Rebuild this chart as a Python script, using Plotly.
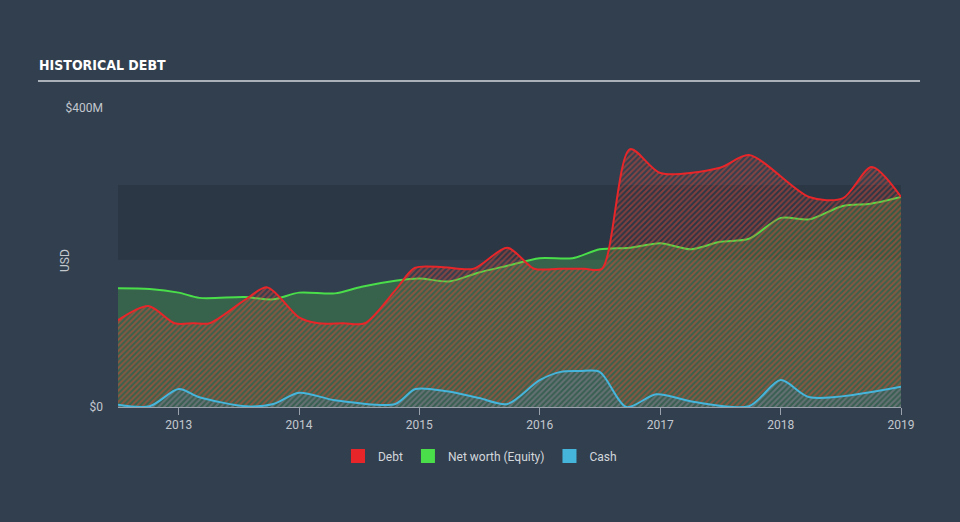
import plotly.graph_objects as go

debt_dates = ["2012-07-01", "2012-10-01", "2012-12-20", "2013-02-15", "2013-04-05", "2013-07-20",
              "2013-09-27", "2014-01-01", "2014-03-01", "2014-05-15", "2014-07-20", "2014-10-20",
              "2014-12-18", "2015-03-15", "2015-06-15", "2015-09-25", "2015-12-15", "2016-03-01",
              "2016-05-15", "2016-07-08", "2016-10-01", "2017-01-01", "2017-07-01", "2017-09-27",
              "2018-03-28", "2018-07-08", "2018-10-04", "2019-01-01"]
debt_values = [116, 135, 112, 112, 112, 143,
               160, 120, 112, 112, 112, 156,
               186, 187, 185, 213, 185, 185,
               185, 185, 345, 313, 320, 337,
               281, 279, 321, 281]

equity_dates = ["2012-07-01", "2012-10-05", "2013-01-01", "2013-03-05", "2013-07-20", "2013-10-15",
                "2014-01-01", "2014-04-20", "2014-07-10", "2014-10-20", "2015-01-01", "2015-04-01",
                "2015-07-01", "2015-09-25", "2016-01-01", "2016-04-10", "2016-07-01", "2016-10-01",
                "2017-01-01", "2017-04-05", "2017-07-01", "2017-09-27", "2018-01-01", "2018-03-28",
                "2018-07-08", "2018-10-01", "2019-01-01"]
equity_values = [159, 158, 153, 146, 147, 144, 153, 152, 161, 169, 172, 168,
                 180, 189, 199, 199, 211, 213, 219, 211, 221, 225, 253, 251,
                 269, 272, 281]

cash_dates = ["2012-07-01", "2012-10-05", "2013-01-01", "2013-03-05", "2013-07-25", "2013-10-15",
              "2014-01-01", "2014-04-20", "2014-10-20", "2014-12-20", "2015-03-25", "2015-07-01",
              "2015-09-25", "2016-01-01", "2016-03-05", "2016-05-01", "2016-07-01", "2016-09-20",
              "2016-12-20", "2017-04-10", "2017-09-27", "2018-01-01", "2018-03-30", "2019-01-01"]
cash_values = [3, 1, 24, 13, 1, 4, 19, 9, 4, 24, 21, 12,
               4, 36, 47, 48, 47, 0, 17, 7, 1, 36, 13, 27]

y_tickvals = [0, 400]
y_ticktext = ["$0", "$400M"]
legend_names = ["Debt", "Net worth (Equity)", "Cash"]

RED = "#e8262a"
GREEN = "#4ade4a"
BLUE = "#45b5dc"
BG = "#323f4e"
TXT = "#c3c8cf"

fig = go.Figure()

fig.add_trace(go.Scatter(
    x=equity_dates, y=equity_values, mode="lines", name=legend_names[1],
    line=dict(color=GREEN, width=2, shape="spline", smoothing=0.8),
    fill="tozeroy", fillcolor="rgba(73,222,73,0.22)", showlegend=False, hoverinfo="skip"))

fig.add_trace(go.Scatter(
    x=debt_dates, y=debt_values, mode="lines", name=legend_names[0],
    line=dict(color=RED, width=2, shape="spline", smoothing=0.8),
    fill="tozeroy",
    fillpattern=dict(shape="/", fgcolor="rgba(240,70,50,0.9)", bgcolor="rgba(0,0,0,0)",
                     size=4, solidity=0.5),
    showlegend=False, hoverinfo="skip"))

fig.add_trace(go.Scatter(
    x=cash_dates, y=cash_values, mode="lines", name=legend_names[2],
    line=dict(color=BLUE, width=2, shape="spline", smoothing=0.8),
    fill="tozeroy",
    fillpattern=dict(shape="/", fgcolor="rgba(69,181,220,0.6)", bgcolor="rgba(50,90,100,0.3)",
                     size=4, solidity=0.45),
    showlegend=False, hoverinfo="skip"))

for nm, col in zip(legend_names, [RED, GREEN, BLUE]):
    fig.add_trace(go.Scatter(
        x=[None], y=[None], mode="markers", name=nm,
        marker=dict(symbol="square", size=14, color=col), showlegend=True))

fig.add_shape(type="rect", xref="paper", yref="y", x0=0, x1=1, y0=197, y1=297,
              fillcolor="rgba(25,35,48,0.28)", line=dict(width=0), layer="below")

fig.add_shape(type="line", xref="paper", yref="paper", x0=-0.1022, x1=1.0243, y0=1.0903, y1=1.0903,
              line=dict(color="#aab1b8", width=2))

fig.add_annotation(text="<b>HISTORICAL DEBT</b>", xref="paper", yref="paper",
                   x=-0.1036, y=1.112, xanchor="left", yanchor="bottom", showarrow=False,
                   font=dict(family="DejaVu Sans Condensed, Liberation Sans Narrow, Arial Narrow",
                             size=14, color="#ffffff"))

fig.add_annotation(text="USD", xref="paper", yref="paper", x=-0.0677, y=0.4916,
                   xanchor="center", yanchor="middle", textangle=-90, showarrow=False,
                   font=dict(color=TXT, size=12))

fig.update_layout(
    width=960, height=522,
    margin=dict(l=118, r=59, t=108, b=115, autoexpand=False),
    paper_bgcolor=BG, plot_bgcolor=BG,
    font=dict(family="Roboto, Open Sans, sans-serif", color=TXT, size=12),
    showlegend=True,
    legend=dict(orientation="h", x=0.4623, xanchor="center", y=-0.115, yanchor="top",
                itemwidth=30,
                font=dict(color="#d3d7dc", size=12), bgcolor="rgba(0,0,0,0)"),
    xaxis=dict(type="date", range=["2012-07-01", "2019-01-01"], dtick="M12", tick0="2013-01-01",
               tickformat="%Y", showgrid=False, zeroline=False,
               showline=True, linecolor="#9aa3ad", linewidth=1,
               ticks="outside", ticklen=7, tickcolor="#9aa3ad",
               tickfont=dict(color=TXT, size=12)),
    yaxis=dict(range=[0, 400], tickvals=y_tickvals, ticktext=y_ticktext,
               showgrid=False, zeroline=False, showline=False, ticks="",
               ticklabelstandoff=14,
               tickfont=dict(color=TXT, size=12)),
)

fig.write_html("out.html")
